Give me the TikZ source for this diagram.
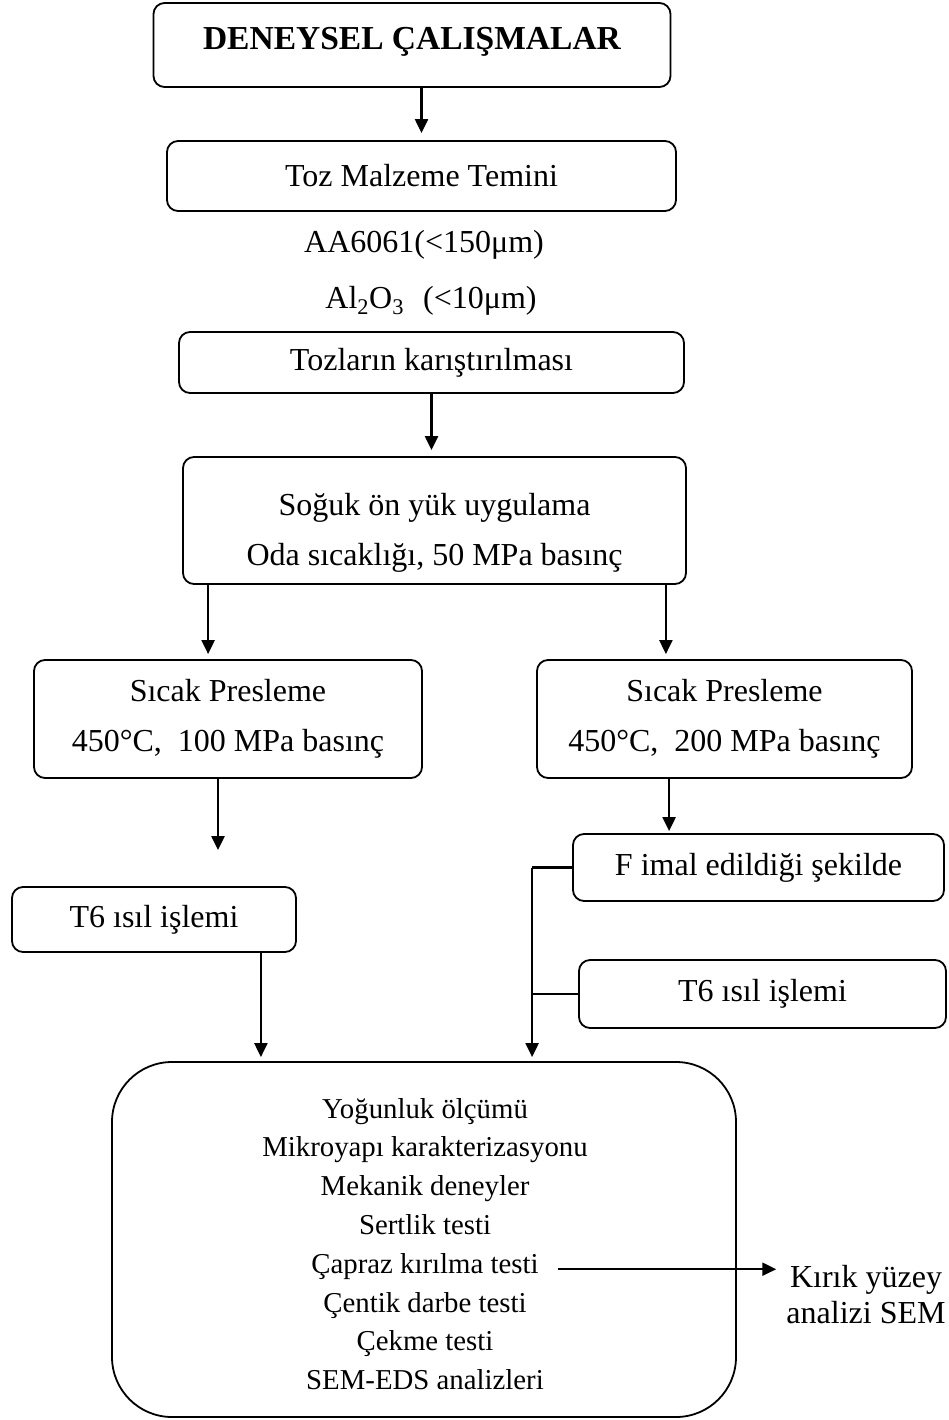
\documentclass[tikz,border=0pt]{standalone}
\usepackage{fontspec}
\setmainfont{Liberation Serif}
\usetikzlibrary{arrows.meta}
\tikzset{
  box/.style={draw,line width=1.8pt,rounded corners=11pt,align=center,inner sep=0pt,font=\fontsize{32}{50}\selectfont},
  txt/.style={inner sep=0pt,font=\fontsize{32}{38}\selectfont},
  item/.style={inner sep=3pt,anchor=base,font=\fontsize{28.8}{36}\selectfont},
  arr/.style={line width=2.2pt,-{Triangle[width=13pt,length=14pt]}},
  conn/.style={line width=2.2pt},
}
\begin{document}
\begin{tikzpicture}[x=1pt,y=-1pt]
\useasboundingbox (0,0) rectangle (948,1420);
\node[box,minimum width=517pt,minimum height=84pt,font=\fontsize{33.5}{40}\selectfont\bfseries] (title) at (412,45) {\rule[-14pt]{0pt}{0pt}DENEYSEL ÇALIŞMALAR};
\node[box,minimum width=509pt,minimum height=70pt] (toz) at (421.5,176) {Toz Malzeme Temini};
\node[txt] (aa) at (424,245) {AA6061(<150μm)};
\node[txt] (al) at (431,301) {Al\textsubscript{2}O\textsubscript{3}\hspace{0.6em}(<10μm)};
\node[box,minimum width=505pt,minimum height=61pt] (mix) at (431.5,362.5) {Tozların karıştırılması};
\node[box,minimum width=503pt,minimum height=127pt] (cold) at (434.5,520.5) {\rule{0pt}{46pt}Soğuk ön yük uygulama\\Oda sıcaklığı, 50 MPa basınç};
\node[box,minimum width=388pt,minimum height=118pt] (hpA) at (228,719) {Sıcak Presleme\\450°C,\ \ 100 MPa basınç};
\node[box,minimum width=375pt,minimum height=118pt] (hpB) at (724.5,719) {Sıcak Presleme\\450°C,\ \ 200 MPa basınç};
\node[box,minimum width=284pt,minimum height=65pt] (t6A) at (154,919.5) {T6 ısıl işlemi};
\node[box,minimum width=371pt,minimum height=67pt] (asF) at (758.5,867.5) {F imal edildiği şekilde};
\node[box,minimum width=367pt,minimum height=68pt] (t6B) at (762.5,994) {T6 ısıl işlemi};
\node[box,rounded corners=60pt,minimum width=624pt,minimum height=355pt] (tests) at (424,1239.5) {};
\foreach \t [count=\i] in {Yoğunluk ölçümü,Mikroyapı karakterizasyonu,Mekanik deneyler,Sertlik testi,Çapraz kırılma testi,Çentik darbe testi,Çekme testi,SEM-EDS analizleri}
  \node[item] (l\i) at (425,1118+38.8*\i-38.8) {\t};
\node[txt,align=center,font=\fontsize{32}{36}\selectfont] (kirik) at (866,1295) {Kırık yüzey\\analizi SEM};
\draw[arr,shorten >=7pt] (toz.north |- title.south) -- (toz.north);
\draw[arr,shorten >=6pt] (mix.south) -- (mix.south |- cold.north);
\draw[arr,shorten >=5pt] ([xshift=26pt]cold.south west) -- ([xshift=26pt]cold.south west |- hpA.north);
\draw[arr,shorten >=5pt] ([xshift=-21pt]cold.south east) -- ([xshift=-21pt]cold.south east |- hpB.north);
\draw[arr,shorten >=36pt] ([xshift=-10pt]hpA.south) -- ([xshift=-10pt]hpA.south |- t6A.north);
\draw[arr,shorten >=2pt] ([xshift=133pt]hpB.south west) -- ([xshift=133pt]hpB.south west |- asF.north);
\draw[arr,shorten >=4pt] ([xshift=-36pt]t6A.south east) -- ([xshift=-36pt]t6A.south east |- tests.north);
\coordinate (bus) at ([xshift=-40pt]asF.west);
\draw[conn] (asF.west) -- (bus);
\draw[conn] (t6B.west) -- (t6B.west -| bus);
\draw[arr,shorten >=4pt] (bus) -- (bus |- tests.north);
\coordinate (cut) at ([xshift=16pt,yshift=4pt]l5.base east);
\draw[arr,shorten >=10pt] (cut) -- (cut -| kirik.west);
\end{tikzpicture}
\end{document}
